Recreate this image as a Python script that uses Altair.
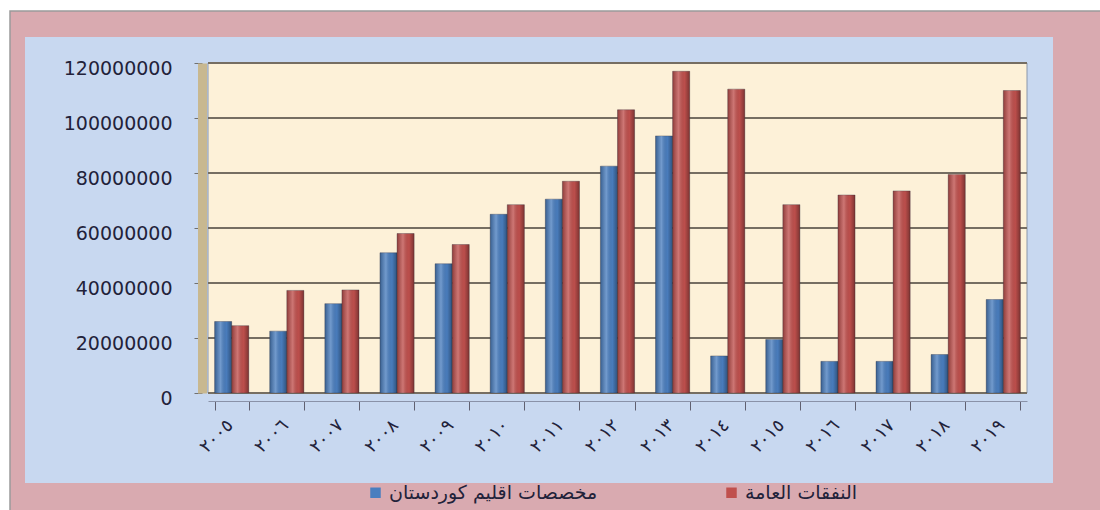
import altair as alt
import pandas as pd

years = ['٢٠٠٥', '٢٠٠٦', '٢٠٠٧', '٢٠٠٨', '٢٠٠٩', '٢٠١٠', '٢٠١١', '٢٠١٢',
         '٢٠١٣', '٢٠١٤', '٢٠١٥', '٢٠١٦', '٢٠١٧', '٢٠١٨', '٢٠١٩']
kurdistan = [26000000, 22500000, 32500000, 51000000, 47000000, 65000000, 70500000, 82500000,
             93500000, 13500000, 19500000, 11500000, 11500000, 14000000, 34000000]
general = [24500000, 37300000, 37500000, 58000000, 54000000, 68500000, 77000000, 103000000,
           117000000, 110500000, 68500000, 72000000, 73500000, 79500000, 110000000]
series_names = ['مخصصات اقليم كوردستان', 'النفقات العامة']
series_colors = ['#4a7ebf', '#c0504d']
y_ticks = [0, 20000000, 40000000, 60000000, 80000000, 100000000, 120000000]

W, H = 819, 330

rows = []
for i, yr in enumerate(years):
    rows.append({'year': yr, 'series': series_names[0], 'value': kurdistan[i]})
    rows.append({'year': yr, 'series': series_names[1], 'value': general[i]})
df = pd.DataFrame(rows)
grid_df = pd.DataFrame({'g': y_ticks})
one = pd.DataFrame({'d': [0]})

yscale = alt.Scale(domain=[0, 120000000], nice=False)
yaxis = alt.Axis(values=y_ticks, format='d', grid=False, title=None, offset=6,
                 domainColor='#c8b890', domainWidth=9, tickColor='#707070', tickSize=8,
                 labelPadding=22, labelFont='DejaVu Sans', labelFontSize=19,
                 labelColor='#22223a', labelOffset=5, zindex=1)

pink = alt.Chart(one).mark_rect(color='#d9aab0', stroke='#9a9a9a', strokeWidth=1.5).encode(
    x=alt.value(-198), x2=alt.value(910), y=alt.value(-52), y2=alt.value(470))
blue = alt.Chart(one).mark_rect(color='#c8d8f0').encode(
    x=alt.value(-183), x2=alt.value(845), y=alt.value(-26), y2=alt.value(420))
cream = alt.Chart(one).mark_rect(color='#fdf1d8', stroke='#8a96aa', strokeWidth=1).encode(
    x=alt.value(0), x2=alt.value(W), y=alt.value(0), y2=alt.value(H))

grid = alt.Chart(grid_df).mark_rule(color='#766e62', strokeWidth=1.8).encode(
    x=alt.value(0), x2=alt.value(W),
    y=alt.Y('g:Q', scale=yscale, axis=yaxis))

bars = alt.Chart(df).mark_bar(stroke='#3a3a4a', strokeWidth=0.6, strokeOpacity=0.6).encode(
    x=alt.X('year:N', sort=years,
            scale=alt.Scale(paddingInner=0.38, paddingOuter=0.12),
            axis=alt.Axis(title=None, labelAngle=-45, tickBand='extent', domainColor='#8a92a8',
                          tickColor='#606070', tickSize=9, offset=8, labelPadding=6,
                          labelOffset=-8, labelFont='DejaVu Sans', labelFontSize=18,
                          labelColor='#22223a', zindex=1)),
    xOffset=alt.XOffset('series:N', sort=series_names, scale=alt.Scale(paddingInner=0.0)),
    y=alt.Y('value:Q', scale=yscale, axis=yaxis),
    color=alt.Color('series:N', sort=series_names,
                    scale=alt.Scale(domain=series_names, range=series_colors),
                    legend=alt.Legend(title=None, orient='none', direction='horizontal',
                                      legendX=158, legendY=420, symbolType='square',
                                      symbolSize=110, symbolStrokeWidth=0,
                                      labelFont='DejaVu Sans', labelFontSize=19,
                                      labelLimit=400,
                                      labelColor='#22223a', columnPadding=124,
                                      symbolOpacity=1))
)

shine = alt.Chart(df).mark_bar(
    fill=alt.LinearGradient(gradient='linear', x1=0, x2=1, y1=0, y2=0,
                            stops=[alt.GradientStop(offset=0, color='rgba(0,0,0,0.25)'),
                                   alt.GradientStop(offset=0.35, color='rgba(255,255,255,0.22)'),
                                   alt.GradientStop(offset=0.7, color='rgba(0,0,0,0.02)'),
                                   alt.GradientStop(offset=1, color='rgba(0,0,0,0.35)')])
).encode(
    x=alt.X('year:N', sort=years),
    xOffset=alt.XOffset('series:N', sort=series_names),
    y=alt.Y('value:Q', scale=yscale, axis=yaxis),
)

chart = alt.layer(pink, blue, cream, grid, bars, shine).properties(
    width=W, height=H,
    autosize=alt.AutoSizeParams(type='none'),
    padding={'left': 208, 'top': 63, 'right': 73, 'bottom': 117},
    background='#ffffff'
).configure_view(strokeWidth=0)

chart.save('out.html', embed_options={'renderer': 'svg', 'actions': False})
